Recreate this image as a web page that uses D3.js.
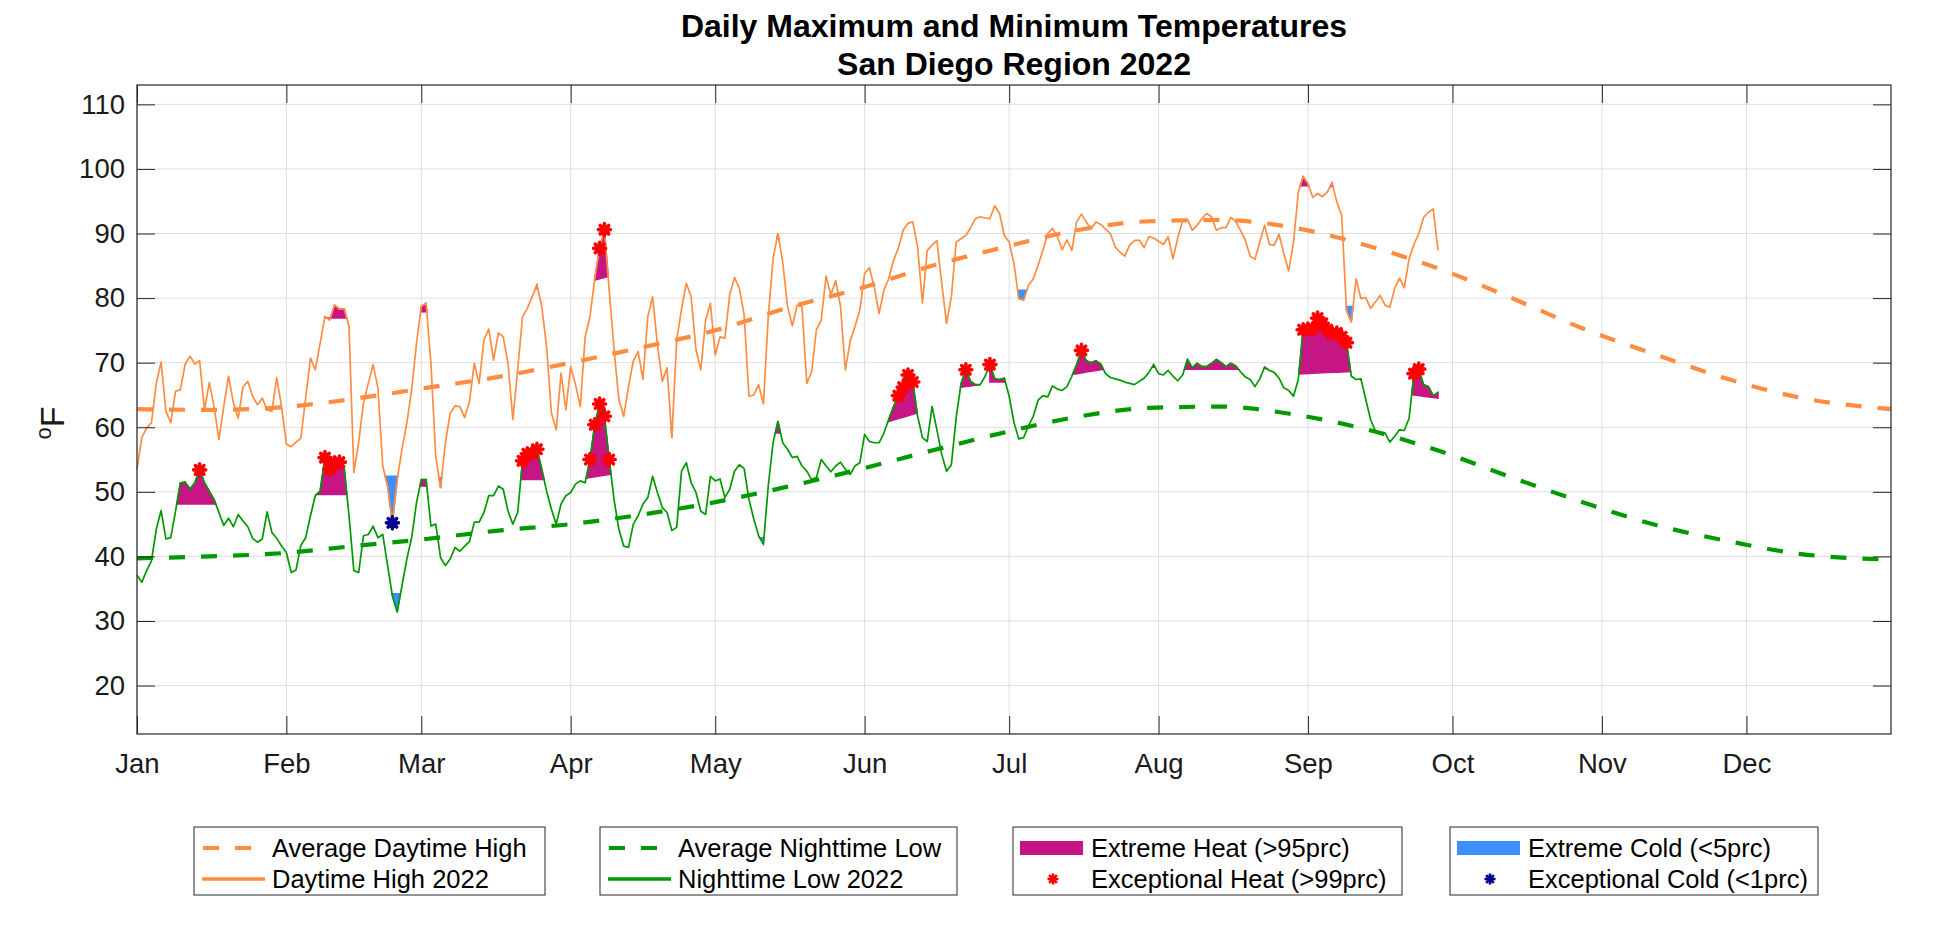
<!DOCTYPE html>
<html>
<head>
<meta charset="utf-8">
<script src="https://cdn.jsdelivr.net/npm/d3@7"></script>
<style>
body{margin:0;background:#fff;}
svg{display:block;font-family:"Liberation Sans",Arial,Helvetica,sans-serif;}
</style>
</head>
<body>
<div id="chart"></div>
<script>
// daily values, index 0 = Jan 1 2022, deg F
var highTemps = [
53.5,58.4,59.9,60.7,66.8,70.1,62.5,60.7,65.6,65.8,69.8,71.0,69.8,70.3,62.7,66.9,63.2,58.1,63.2,67.9,
63.8,61.4,66.2,67.1,64.8,63.5,64.5,62.7,62.5,67.7,63.2,57.4,57.0,57.7,58.3,64.5,70.7,68.9,73.0,77.1,
76.6,78.9,78.3,78.3,75.6,53.0,57.6,63.8,66.8,69.7,66.1,54.0,50.9,45.2,51.9,56.6,60.7,65.8,73.0,78.7,
79.2,69.9,55.5,50.6,57.6,62.2,63.3,63.2,61.5,64.0,69.9,66.8,73.5,75.2,70.4,74.6,74.0,69.9,61.2,68.9,
77.1,78.4,80.2,82.0,78.7,72.5,62.2,59.6,68.4,62.7,69.4,66.6,63.2,74.0,77.1,83.0,87.7,90.6,81.2,72.0,
64.3,61.7,66.3,70.3,71.7,67.4,77.1,80.2,72.8,67.1,69.2,58.4,73.5,78.3,82.3,80.2,72.0,68.9,76.6,79.2,
71.2,74.0,73.8,80.5,83.2,81.5,77.4,64.8,65.0,66.6,63.6,77.1,86.1,90.0,85.6,78.7,75.7,78.9,78.7,66.8,
68.6,75.1,76.6,83.4,80.5,82.7,78.7,68.9,73.3,75.6,78.1,83.8,84.7,81.7,77.6,81.2,83.0,85.9,87.7,90.5,
91.6,91.8,87.9,79.2,87.4,88.2,88.9,82.3,76.1,80.2,88.7,89.2,89.7,90.9,92.3,92.6,92.4,92.3,94.3,93.1,
89.7,88.7,85.3,79.9,79.7,82.0,83.0,85.1,87.4,90.0,90.8,89.5,87.5,89.0,87.4,91.8,93.0,91.8,90.7,91.8,
91.4,90.7,90.0,87.9,87.1,86.5,88.2,88.9,89.0,87.8,89.5,89.3,88.8,88.3,89.5,86.1,89.4,92.0,92.2,90.5,
91.3,92.3,93.1,92.6,90.5,90.9,90.9,92.5,91.9,90.5,89.0,86.5,86.0,88.7,91.3,88.3,88.2,89.9,86.9,84.2,
88.6,96.4,98.8,97.7,95.6,96.2,95.7,96.4,97.8,94.9,92.8,78.1,76.3,83.0,79.9,80.1,78.4,79.4,80.4,78.9,
78.6,81.5,83.1,81.6,86.1,88.3,90.0,92.5,93.3,93.8,87.4
];
var lowTemps = [
37.1,36.0,37.8,39.3,44.2,47.1,42.7,42.9,47.0,51.4,51.5,50.4,51.4,53.4,51.4,50.1,48.8,46.8,44.8,45.9,
44.6,46.5,45.5,44.6,42.8,42.2,42.7,46.9,43.7,42.8,41.6,40.6,37.5,37.9,41.7,42.9,46.3,49.4,50.1,55.3,
53.5,54.5,54.6,53.7,46.3,37.8,37.5,43.2,43.4,44.7,42.9,43.4,38.6,33.9,31.4,35.5,39.6,42.9,48.3,51.9,
51.9,44.7,45.0,39.8,38.6,39.6,41.4,40.8,41.6,42.3,45.3,45.3,46.8,49.4,49.4,50.9,50.4,47.0,45.0,46.8,
54.8,55.9,56.0,56.6,53.5,50.1,47.3,45.0,48.1,49.4,49.9,51.2,51.7,51.4,55.0,60.4,63.6,61.7,55.0,48.8,
44.2,41.6,41.4,45.0,46.3,48.1,49.1,52.4,49.9,47.6,46.8,44.0,44.5,53.2,54.5,51.4,49.9,47.0,46.5,52.4,
51.7,52.0,49.1,50.4,53.2,54.2,53.6,48.8,45.8,43.2,41.9,50.9,57.6,60.9,57.6,56.6,55.3,55.5,54.0,53.2,
51.9,52.2,55.0,54.0,53.1,54.0,54.6,53.5,52.7,54.0,54.5,58.9,57.8,57.6,57.6,59.1,61.2,63.2,64.9,66.2,
68.1,67.0,61.7,58.4,57.8,63.2,59.6,55.8,53.2,54.2,61.5,66.7,68.9,67.1,66.6,66.6,67.9,69.7,67.5,67.4,
67.6,64.8,60.7,58.2,58.4,60.2,61.7,64.2,64.9,64.7,66.4,65.9,65.7,66.3,67.9,69.7,71.9,70.3,70.0,70.3,
69.8,68.3,67.7,67.5,67.3,67.0,66.8,66.6,67.1,67.6,68.5,69.7,68.3,68.1,68.8,67.9,67.2,68.1,70.5,69.2,
69.9,69.4,69.4,69.9,70.5,70.0,69.4,69.9,69.5,68.6,67.8,67.4,66.3,67.5,69.3,68.8,68.5,67.6,66.1,65.7,
64.8,67.4,75.1,75.2,75.3,76.9,76.1,75.1,74.6,74.6,74.0,73.1,67.9,67.4,67.5,64.3,61.2,59.4,59.0,59.1,
57.7,58.6,59.6,59.5,61.4,68.3,69.0,66.6,66.3,64.9,65.4
];

// long-term averages, read at these days of the year
var avgDays = [0,15,30,45,60,75,90,105,120,135,150,165,180,195,210,225,240,255,270,285,300,315,330,345,364];
var avgHigh = [62.8,62.7,63.1,64.4,66.1,67.8,70.0,72.4,75.0,78.5,81.5,85.0,87.9,90.5,91.9,92.1,90.9,88.2,84.6,80.1,75.3,71.3,67.5,64.6,62.8];
var avgLow  = [39.7,40.0,40.5,41.6,42.7,44.0,45.0,46.5,48.4,50.8,53.5,56.4,59.2,61.6,63.0,63.2,62.0,59.7,56.4,52.3,48.4,44.9,42.4,40.4,39.5];

// runs past the percentile: [first day, last day, threshold at first, threshold at last]
var heatHighRuns = [[39,44,76.9,76.9],[59,60,77.9,77.9],[83,83,81.5,81.5],[95,98,82.8,83.4],[133,133,89.2,89.2],[242,243,97.4,97.4],[248,248,97.3,97.3]];
var heatLowRuns = [[9,16,48.1,48.1],[38,44,49.6,49.6],[59,60,50.9,50.9],[80,84,51.9,51.9],[94,98,52.2,52.7],[133,133,59.1,59.1],
  [156,161,60.9,62.0],[165,165,63.0,63.0],[171,174,66.2,66.5],[177,180,67.0,67.0],[195,200,68.3,68.9],[211,211,69.3,69.3],
  [218,228,69.0,69.0],[234,234,69.1,69.1],[242,251,68.3,68.6],[254,254,67.3,67.3],[265,270,65.0,64.5]];
var coldHighRuns = [[52,54,52.4,52.4],[63,63,52.2,52.2],[111,111,59.9,59.9],[183,184,81.2,81.2],[251,252,78.7,78.7]];
var coldLowRuns = [[53,54,34.2,34.2],[130,130,42.9,42.9]];

// days past the 99th / under the 1st percentile
var excHeatHighDays = [96,97];
var excHeatLowDays = [13,39,40,41,42,80,81,82,83,94,95,96,97,98,158,159,160,161,172,177,196,242,243,244,245,246,247,248,249,250,251,265,266];
var excColdHighDays = [53];

var yTicks = [20,30,40,50,60,70,80,90,100,110];

var W = 1949, H = 945;
var plotL = 137, plotR = 1891, plotT = 85, plotB = 734;
var orange = '#ff8c40', green = '#009900', magenta = '#c71585', coldBlue = '#408fff', navy = '#00008b', axisCol = '#262626';

var t0 = Date.UTC(2022,0,1);
function dayDate(d){ return new Date(t0 + d*864e5); }

var x = d3.scaleUtc()
          .domain([dayDate(0), new Date(Date.UTC(2022,11,31))])
          .range([plotL,plotR]);
var y = d3.scaleLinear()
          .domain([12.5,113])
          .range([plotB,plotT]);

var svg = d3.select('#chart').append('svg')
            .attr('width',W)
            .attr('height',H);

var months = d3.utcMonth.range(dayDate(0), new Date(Date.UTC(2023,0,1)));

// grid
var grid = svg.append('g').attr('stroke','#dfdfdf').attr('stroke-width',1);
grid.selectAll('.gx').data(months).enter().append('line')
    .attr('x1',function(m){return x(m);}).attr('x2',function(m){return x(m);})
    .attr('y1',plotT).attr('y2',plotB);
grid.selectAll('.gy').data(yTicks).enter().append('line')
    .attr('x1',plotL).attr('x2',plotR)
    .attr('y1',function(v){return y(v);}).attr('y2',function(v){return y(v);});

// averages
var avgLine = function(vals){
	return d3.line()
	         .x(function(d,i){return x(dayDate(avgDays[i]));})
	         .y(function(d){return y(d);})
	         .curve(d3.curveMonotoneX)(vals);
};
svg.append('path').attr('d',avgLine(avgHigh))
   .attr('fill','none').attr('stroke',orange).attr('stroke-width',4.2).attr('stroke-dasharray','16,16');
svg.append('path').attr('d',avgLine(avgLow))
   .attr('fill','none').attr('stroke',green).attr('stroke-width',4.2).attr('stroke-dasharray','16,16');

// area between a series and a threshold, only where it is exceeded
function exceedPoints(series,run,sign){
	var s = run[0], e = run[1];
	function base(d){ return s === e ? run[2] : run[2] + (run[3]-run[2])*(d-s)/(e-s); }
	var pts = [];
	var from = Math.max(s-1,0), to = Math.min(e+1,series.length-1);
	for(var d = from; d <= to; d++){
		var diff = sign*(series[d]-base(d));
		if(d > from){
			var pdiff = sign*(series[d-1]-base(d-1));
			if((pdiff > 0) !== (diff > 0)){
				var cd = d-1 + pdiff/(pdiff-diff);
				pts.push({d:cd, top:base(cd), base:base(cd)});
			}
		}
		if(d >= s && d <= e && diff > 0){
			pts.push({d:d, top:series[d], base:base(d)});
		}
	}
	return pts;
}
var runArea = d3.area()
                .x(function(p){return x(dayDate(p.d));})
                .y0(function(p){return y(p.base);})
                .y1(function(p){return y(p.top);});

function drawRuns(series,runs,sign,color){
	runs.forEach(function(r){
		var pts = exceedPoints(series,r,sign);
		if(pts.length < 2) return;
		svg.append('path').attr('d',runArea(pts))
		   .attr('fill',color).attr('stroke',color).attr('stroke-width',1.5);
	});
}
drawRuns(highTemps,heatHighRuns,1,magenta);
drawRuns(lowTemps,heatLowRuns,1,magenta);
drawRuns(highTemps,coldHighRuns,-1,coldBlue);
drawRuns(lowTemps,coldLowRuns,-1,coldBlue);

// daily lines
var dayLine = d3.line()
                .x(function(d,i){return x(dayDate(i));})
                .y(function(d){return y(d);});
svg.append('path').attr('d',dayLine(highTemps))
   .attr('fill','none').attr('stroke',orange).attr('stroke-width',1.7).attr('stroke-linejoin','round');
svg.append('path').attr('d',dayLine(lowTemps))
   .attr('fill','none').attr('stroke',green).attr('stroke-width',1.7).attr('stroke-linejoin','round');

// asterisk markers
function star(cx,cy,r){
	var p = '';
	for(var k = 0; k < 4; k++){
		var a = k*Math.PI/4, dx = r*Math.cos(a), dy = r*Math.sin(a);
		p += 'M'+(cx-dx)+','+(cy-dy)+'L'+(cx+dx)+','+(cy+dy);
	}
	return p;
}
function drawStars(series,days,color){
	var g = svg.append('g');
	g.selectAll('circle').data(days).enter().append('circle')
	 .attr('cx',function(d){return x(dayDate(d));})
	 .attr('cy',function(d){return y(series[d]);})
	 .attr('r',4).attr('fill',color);
	g.selectAll('path').data(days).enter().append('path')
	 .attr('d',function(d){return star(x(dayDate(d)),y(series[d]),6);})
	 .attr('stroke',color).attr('stroke-width',3.6).attr('stroke-linecap','round').attr('fill','none');
}
drawStars(lowTemps,excHeatLowDays,'#ff0000');
drawStars(highTemps,excHeatHighDays,'#ff0000');
drawStars(highTemps,excColdHighDays,navy);

// axes, ticks pointing inwards on all four sides
var fmt = d3.utcFormat('%b');
var gx = svg.append('g').attr('transform','translate(0,'+plotB+')')
            .call(d3.axisBottom(x).tickValues(months).tickFormat(fmt).tickSizeInner(-18).tickSizeOuter(0).tickPadding(19));
var gx2 = svg.append('g').attr('transform','translate(0,'+plotT+')')
            .call(d3.axisTop(x).tickValues(months).tickFormat('').tickSizeInner(-18).tickSizeOuter(0));
var gy = svg.append('g').attr('transform','translate('+plotL+',0)')
            .call(d3.axisLeft(y).tickValues(yTicks).tickSizeInner(-18).tickSizeOuter(0).tickPadding(12));
var gy2 = svg.append('g').attr('transform','translate('+plotR+',0)')
            .call(d3.axisRight(y).tickValues(yTicks).tickFormat('').tickSizeInner(-18).tickSizeOuter(0));
[gx,gx2,gy,gy2].forEach(function(g){
	g.select('.domain').remove();
	g.selectAll('line').attr('stroke',axisCol);
	g.selectAll('text').attr('fill','#1a1a1a').style('font-size','27.5px').style('font-family','"Liberation Sans",Arial,sans-serif');
});
svg.append('rect').attr('x',plotL).attr('y',plotT).attr('width',plotR-plotL).attr('height',plotB-plotT)
   .attr('fill','none').attr('stroke',axisCol).attr('stroke-width',1.2);

// titles
svg.append('text').attr('x',(plotL+plotR)/2).attr('y',37).attr('text-anchor','middle')
   .style('font-size','32px').style('font-weight','bold').text('Daily Maximum and Minimum Temperatures');
svg.append('text').attr('x',(plotL+plotR)/2).attr('y',75).attr('text-anchor','middle')
   .style('font-size','32px').style('font-weight','bold').text('San Diego Region 2022');

var ylab = svg.append('text').attr('transform','translate(64,423) rotate(-90)')
              .attr('text-anchor','middle').attr('fill','#1a1a1a');
ylab.append('tspan').style('font-size','22px').attr('dy',-13).text('o');
ylab.append('tspan').style('font-size','34px').attr('dy',13).text('F');

// legend
var legendBoxes = [
	{x:194, w:351, items:[{kind:'dash',color:orange,label:'Average Daytime High'},{kind:'line',color:orange,label:'Daytime High 2022'}]},
	{x:600, w:357, items:[{kind:'dash',color:green,label:'Average Nighttime Low'},{kind:'line',color:green,label:'Nighttime Low 2022'}]},
	{x:1013, w:389, items:[{kind:'patch',color:magenta,label:'Extreme Heat (>95prc)'},{kind:'star',color:'#ff0000',label:'Exceptional Heat (>99prc)'}]},
	{x:1450, w:368, items:[{kind:'patch',color:coldBlue,label:'Extreme Cold (<5prc)'},{kind:'star',color:navy,label:'Exceptional Cold (<1prc)'}]}
];
var rowY = [848,879];
legendBoxes.forEach(function(b){
	var g = svg.append('g');
	g.append('rect').attr('x',b.x).attr('y',827).attr('width',b.w).attr('height',68)
	 .attr('fill','#fff').attr('stroke',axisCol).attr('stroke-width',1);
	b.items.forEach(function(it,i){
		var cy = rowY[i];
		if(it.kind === 'dash'){
			g.append('line').attr('x1',b.x+9).attr('x2',b.x+58).attr('y1',cy).attr('y2',cy)
			 .attr('stroke',it.color).attr('stroke-width',4).attr('stroke-dasharray','16,16');
		}else if(it.kind === 'line'){
			g.append('line').attr('x1',b.x+8).attr('x2',b.x+71).attr('y1',cy).attr('y2',cy)
			 .attr('stroke',it.color).attr('stroke-width',3.5);
		}else if(it.kind === 'patch'){
			g.append('rect').attr('x',b.x+7).attr('y',cy-7).attr('width',63).attr('height',14).attr('fill',it.color);
		}else{
			g.append('path').attr('d',star(b.x+40,cy,5.5)).attr('stroke',it.color).attr('stroke-width',2.6).attr('fill','none');
		}
		g.append('text').attr('x',b.x+78).attr('y',cy+9).attr('fill','#000')
		 .style('font-size','25.5px').text(it.label);
	});
});
</script>
</body>
</html>
